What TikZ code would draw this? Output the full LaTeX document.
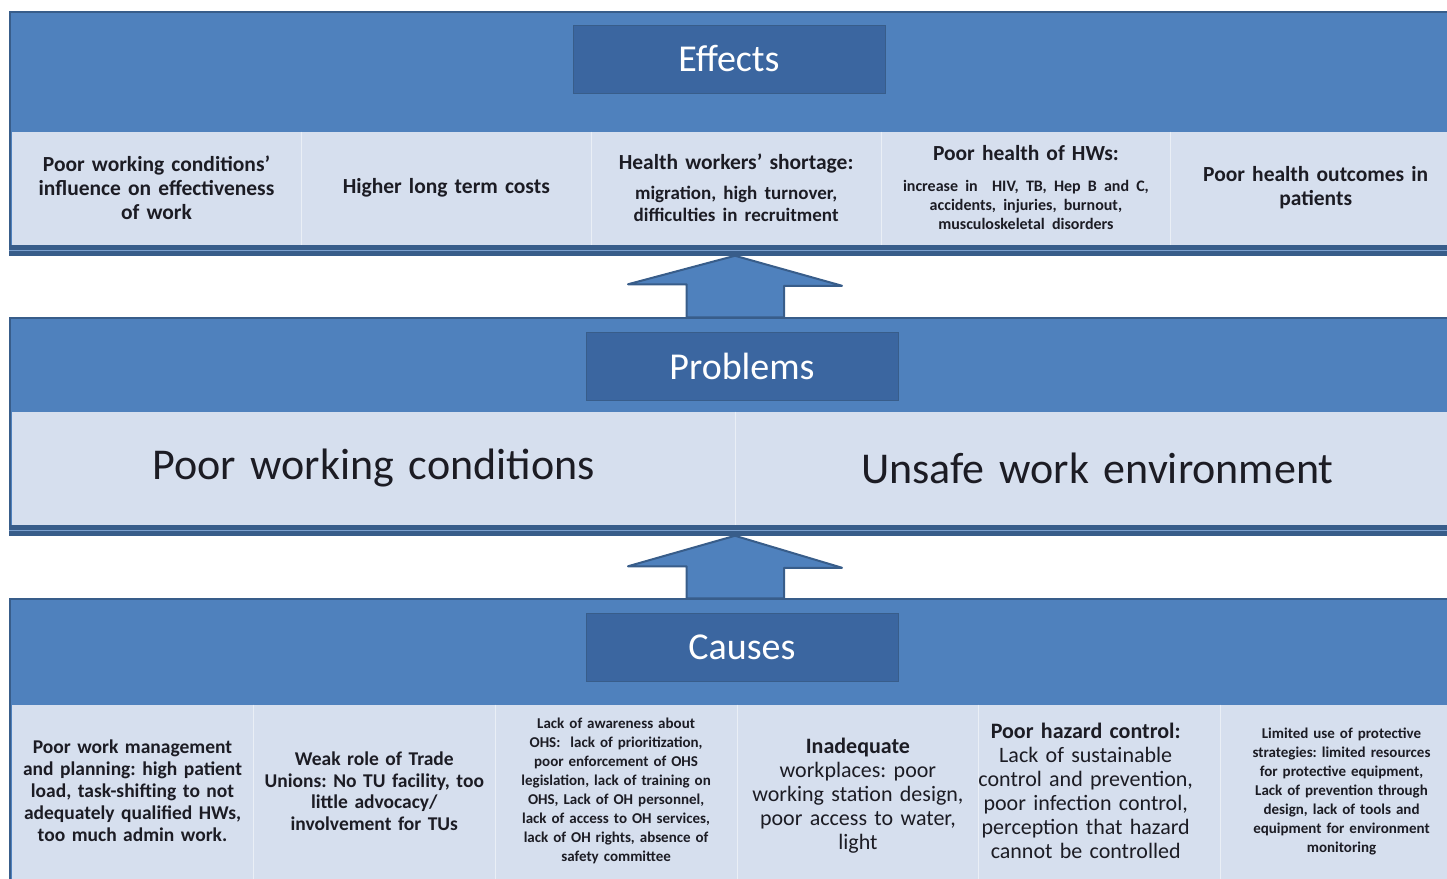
\documentclass[tikz,border=0pt]{standalone}
\usepackage{fontspec}
\setmainfont{Carlito}
\usetikzlibrary{positioning}
\definecolor{sininen}{HTML}{4F81BD}
\definecolor{tumma}{HTML}{3B66A0}
\definecolor{reuna}{HTML}{385D8A}
\definecolor{vaalea}{HTML}{D6DFEE}
\definecolor{teksti}{HTML}{1C1C24}
\frenchspacing

\begin{document}
\begin{tikzpicture}[x=1pt, y=-1pt, node distance=0pt, thick,
    paneeli/.style={rectangle, fill=sininen, draw=reuna, line width=1.5pt, minimum width=1450pt, inner sep=0pt},
    kaista/.style={rectangle, fill=vaalea, minimum width=1448.5pt, minimum height=113pt, inner sep=0pt},
    otsikko/.style={rectangle, fill=tumma, draw=reuna, minimum width=312pt, minimum height=68pt, text=white, font=\fontsize{38}{46}\selectfont},
    sarake/.style={text=teksti, align=center, inner sep=0pt, text width=#1},
    vaikutus/.style={sarake=289pt, font=\fontsize{21.5}{24}\selectfont\bfseries},
    ongelma/.style={sarake=723pt, font=\fontsize{44}{52}\selectfont},
    syy/.style={sarake=241pt},
    nuoli/.style={fill=sininen, draw=reuna, line width=2pt, line join=round},
    erotin/.style={draw=white!50!vaalea, line width=1pt}]

\useasboundingbox (0,0) rectangle (1447,878);

% panels
\node[paneeli, minimum height=243pt] (effects) at (735,133.5) {};
\node[kaista] (eb) at (735.75,188.5) {};
\fill[reuna] (eb.south west) rectangle (effects.south east);
\draw[sininen!75!white, line width=1.2pt] ([yshift=5pt]effects.south west) -- ([yshift=5pt]effects.south east);

\node[paneeli, minimum height=217pt] (problems) at (735,426.5) {};
\node[kaista] (pb) at (735.75,468.5) {};
\fill[reuna] (pb.south west) rectangle (problems.south east);
\draw[sininen!75!white, line width=1.2pt] ([yshift=5pt]problems.south west) -- ([yshift=5pt]problems.south east);

\node[paneeli, minimum height=294pt] (causes) at (735,746) {};
\node[kaista, minimum height=188pt] (cb) at (735.75,799) {};

% titles
\node[otsikko] (E) at (729,59) {Effects};
\node[otsikko] (P) at (742,366.5) {Problems};
\node[otsikko] (C) at (742,647.5) {Causes};

% effects
\node[vaikutus] (e1) at (156.5,188) {Poor working conditions’\\influence on effectiveness\\of work};
\node[vaikutus, right=of e1] (e2) {Higher long term costs};
\node[vaikutus, right=of e2] (e3) {Health workers’ shortage:\\[8pt]{\fontsize{19}{22}\selectfont migration, high turnover,\\difficulties in recruitment\par}};
\node[vaikutus, right=of e3] (e4) {Poor health of HWs:\\[12pt]{\fontsize{16}{19}\selectfont increase in~ HIV, TB, Hep B and C,\\accidents, injuries, burnout,\\musculoskeletal disorders\par}};
\node[vaikutus, right=of e4] (e5) {Poor health outcomes in\\patients};

% problems
\node[ongelma] (p1) at (373.5,468) {Poor working conditions};
\node[ongelma, right=of p1] (p2) {Unsafe work environment};

% causes
\node[syy, font=\fontsize{19.5}{22}\selectfont\bfseries] (c1) at (132.5,791) {Poor work management\\and planning: high patient\\load, task-shifting to not\\adequately qualified HWs,\\too much admin work.};
\node[syy, font=\fontsize{19.5}{21.5}\selectfont\bfseries, right=of c1] (c2) {Weak role of Trade\\Unions: No TU facility, too\\little advocacy/\\involvement for TUs};
\node[syy, font=\fontsize{15}{19}\selectfont\bfseries, right=of c2] (c3) {Lack of awareness about\\OHS:~ lack of prioritization,\\poor enforcement of OHS\\legislation, lack of training on\\OHS, Lack of OH personnel,\\lack of access to OH services,\\lack of OH rights, absence of\\safety committee};
\node[syy, font=\fontsize{22}{24}\selectfont, right=of c3, yshift=-5pt] (c4) {\textbf{Inadequate}\\workplaces: poor\\working station design,\\poor access to water,\\light};
\node[syy, font=\fontsize{22}{24}\selectfont, right=of c4, xshift=-14pt, yshift=5pt] (c5) {\textbf{Poor hazard control:}\\Lack of sustainable\\control and prevention,\\poor infection control,\\perception that hazard\\cannot be controlled};
\node[syy, font=\fontsize{15}{19}\selectfont\bfseries, right=14pt of c5] (c6) {Limited use of protective\\strategies: limited resources\\for protective equipment,\\Lack of prevention through\\design, lack of tools and\\equipment for environment\\monitoring};

% column borders
\foreach \a in {e1.east,e2.east,e3.east,e4.east}
  \draw[erotin] (\a |- eb.north) -- (\a |- eb.south);
\draw[erotin] (p1.east |- pb.north) -- (p1.east |- pb.south);
\foreach \a in {c1.east,c2.east,c3.east,c4.east,c6.west}
  \draw[erotin] (\a |- cb.north) -- (\a |- cb.south);

% arrows
\draw[nuoli] (effects.south) -- ++(107,30) -- ++(-58,0) |- (problems.north) -| ++(-48.5,-33) -- ++(-58.5,0) -- cycle;
\draw[nuoli] (problems.south) -- ++(107,32) -- ++(-58,0) |- (causes.north) -| ++(-48.5,-32) -- ++(-58.5,0) -- cycle;
\end{tikzpicture}
\end{document}
